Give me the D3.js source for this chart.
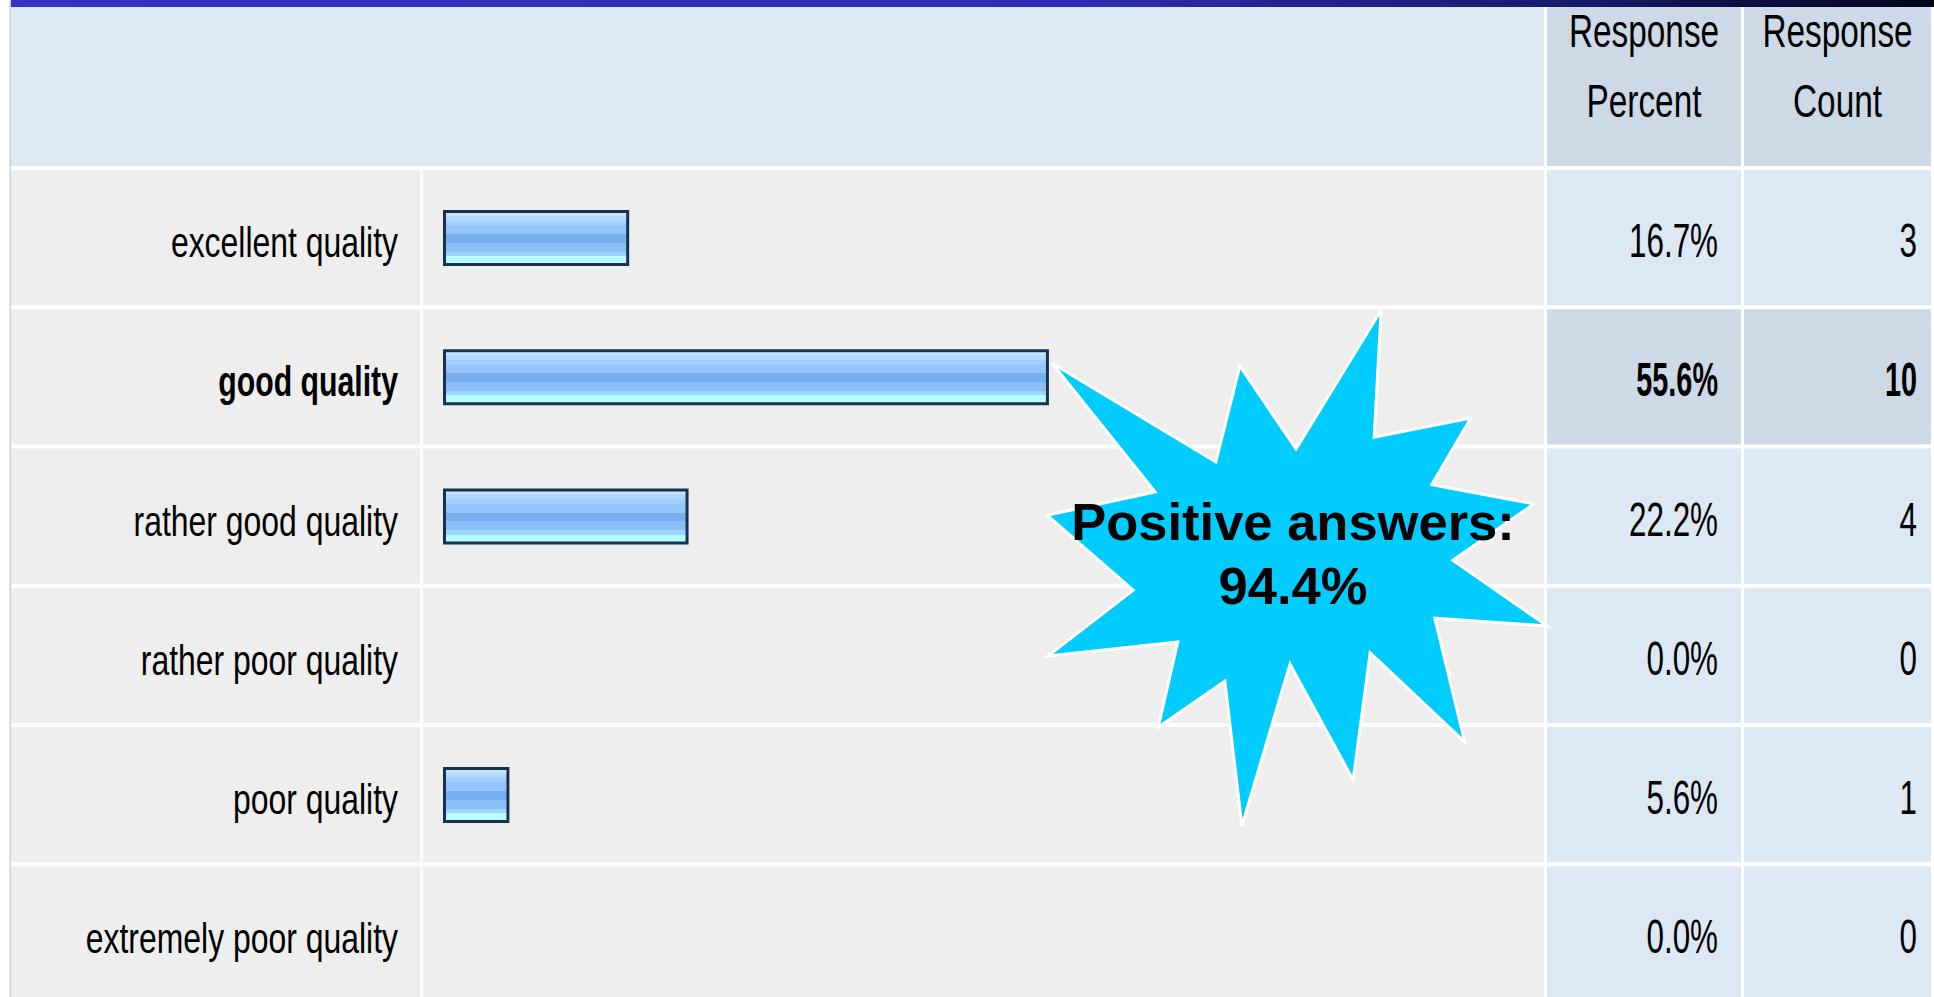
<!DOCTYPE html>
<html>
<head>
<meta charset="utf-8">
<script src="https://cdn.jsdelivr.net/npm/d3@7"></script>
<style>
body { margin: 0; background: #fff; }
svg { display: block; }
</style>
</head>
<body>
<svg id="chart" width="1934" height="997"></svg>
<script>
var categories = ["excellent quality", "good quality", "rather good quality",
	"rather poor quality", "poor quality", "extremely poor quality"];
var percents = [16.7, 55.6, 22.2, 0.0, 5.6, 0.0];
var counts = [3, 10, 4, 0, 1, 0];
var headerPercent = ["Response", "Percent"];
var headerCount = ["Response", "Count"];
var highlighted = "good quality";
var calloutLines = ["Positive answers:", "94.4%"];

// outline of the starburst, in its own unit box
var burstShape = [
	[0.012, 0.103], [0.339, 0.294], [0.387, 0.108], [0.499, 0.269],
	[0.669, 0.000], [0.655, 0.246], [0.848, 0.209], [0.770, 0.338],
	[0.974, 0.375], [0.812, 0.484], [1.000, 0.611], [0.776, 0.596],
	[0.836, 0.836], [0.647, 0.663], [0.613, 0.909], [0.487, 0.685],
	[0.391, 0.998], [0.357, 0.718], [0.224, 0.807], [0.263, 0.642],
	[0.004, 0.669], [0.174, 0.542], [0.002, 0.397], [0.218, 0.352]
];

var rows = categories.map(function(c, i){
	return { label: c, pct: percents[i], count: counts[i] };
});

var svg = d3.select("#chart");
var defs = svg.append("defs");

// layout
var colLabel = [11, 420], colBar = [423, 1544], colPct = [1547, 1741], colCnt = [1744, 1931];
var headerTop = 7, headerBottom = 166;
var rowStep = 139.25;

var y = d3.scaleBand()
	.domain(categories)
	.range([168, 168 + rowStep * categories.length]);
var x = d3.scaleLinear()
	.domain([0, 100])
	.range([446, 446 + 1079]);

// gradients
var topGrad = defs.append("linearGradient").attr("id", "topbar")
	.attr("x1", "0").attr("x2", "1").attr("y1", "0").attr("y2", "0");
[["0", "#3333c4"], ["0.55", "#2d2db6"], ["0.8", "#1a1a70"], ["1", "#04041c"]].forEach(function(s){
	topGrad.append("stop").attr("offset", s[0]).attr("stop-color", s[1]);
});

var barGrad = defs.append("linearGradient").attr("id", "bargrad")
	.attr("x1", "0").attr("x2", "0").attr("y1", "0").attr("y2", "1");
var stripes = [
	[0.000, "#c8e4ff"], [0.083, "#b2d9ff"], [0.172, "#a2cffd"], [0.262, "#94c6fb"],
	[0.428, "#76aef0"], [0.586, "#8abff8"], [0.759, "#9fd2ff"], [0.841, "#b6ffff"]
];
stripes.forEach(function(s, i){
	var end = i < stripes.length - 1 ? stripes[i + 1][0] : 1;
	barGrad.append("stop").attr("offset", s[0]).attr("stop-color", s[1]);
	barGrad.append("stop").attr("offset", end).attr("stop-color", s[1]);
});

// top bar and left rule
svg.append("rect").attr("x", 10).attr("y", 0).attr("width", 1934 - 10).attr("height", headerTop)
	.attr("fill", "url(#topbar)");
svg.append("rect").attr("x", 9.5).attr("y", 0).attr("width", 1.5).attr("height", 997)
	.attr("fill", "#cbcbe8");

// header cells
svg.append("rect").attr("x", colLabel[0]).attr("y", headerTop)
	.attr("width", colBar[1] - colLabel[0]).attr("height", headerBottom - headerTop)
	.attr("fill", "#dde8f5");
[[colPct, headerPercent], [colCnt, headerCount]].forEach(function(h){
	svg.append("rect").attr("x", h[0][0]).attr("y", headerTop)
		.attr("width", h[0][1] - h[0][0]).attr("height", headerBottom - headerTop)
		.attr("fill", "#cdd9e6");
	var cx = (h[0][0] + h[0][1]) / 2;
	h[1].forEach(function(t, j){
		svg.append("text")
			.attr("transform", "translate(" + cx + "," + (47 + j * 70) + ") scale(0.71,1)")
			.attr("text-anchor", "middle")
			.attr("font-family", "Liberation Sans, Arial, sans-serif")
			.attr("font-size", 47)
			.attr("fill", "#000")
			.text(t);
	});
});

// body rows
var rowG = svg.append("g").selectAll("g")
	.data(rows)
	.enter()
		.append("g")
		.attr("transform", function(d){ return "translate(0," + y(d.label) + ")"; });

rowG.append("rect").attr("x", colLabel[0]).attr("y", 2)
	.attr("width", colLabel[1] - colLabel[0]).attr("height", rowStep - 4).attr("fill", "#eeeeee");
rowG.append("rect").attr("x", colBar[0]).attr("y", 2)
	.attr("width", colBar[1] - colBar[0]).attr("height", rowStep - 4).attr("fill", "#eeeeee");
rowG.append("rect").attr("x", colPct[0]).attr("y", 2)
	.attr("width", colPct[1] - colPct[0]).attr("height", rowStep - 4)
	.attr("fill", function(d){ return d.label === highlighted ? "#cdd9e6" : "#dde8f5"; });
rowG.append("rect").attr("x", colCnt[0]).attr("y", 2)
	.attr("width", colCnt[1] - colCnt[0]).attr("height", rowStep - 4)
	.attr("fill", function(d){ return d.label === highlighted ? "#cdd9e6" : "#dde8f5"; });

// bars
rowG.filter(function(d){ return d.pct > 0; })
	.append("rect")
	.attr("x", x(0) - 1.5)
	.attr("y", 43.5)
	.attr("width", function(d){ return x(d.pct) - x(0) + 3; })
	.attr("height", 53)
	.attr("fill", "url(#bargrad)")
	.attr("stroke", "#1a3050")
	.attr("stroke-width", 3);

var txt = function(sel, size, weight){
	return sel.attr("font-family", "Liberation Sans, Arial, sans-serif")
		.attr("font-size", size)
		.attr("font-weight", weight)
		.attr("text-anchor", "end")
		.attr("fill", "#000");
};

txt(rowG.append("text"), 42, function(d){ return d.label === highlighted ? "bold" : "normal"; })
	.attr("transform", function(d){
		return "translate(398,89) scale(" + (d.label === highlighted ? 0.72 : 0.76) + ",1)";
	})
	.text(function(d){ return d.label; });

txt(rowG.append("text"), 48, function(d){ return d.label === highlighted ? "bold" : "normal"; })
	.attr("transform", function(d){
		return "translate(1718,89) scale(" + (d.label === highlighted ? 0.6 : 0.654) + ",1)";
	})
	.text(function(d){ return d.pct.toFixed(1) + "%"; });

txt(rowG.append("text"), 48, function(d){ return d.label === highlighted ? "bold" : "normal"; })
	.attr("transform", function(d){
		return "translate(1917,89) scale(" + (d.label === highlighted ? 0.6 : 0.654) + ",1)";
	})
	.text(function(d){ return d.count; });

// starburst callout
var bx = d3.scaleLinear().domain([0, 1]).range([1046, 1547]);
var by = d3.scaleLinear().domain([0, 1]).range([310, 827]);
svg.append("polygon")
	.attr("points", burstShape.map(function(p){ return [bx(p[0]), by(p[1])].join(","); }).join(" "))
	.attr("fill", "#00ccff")
	.attr("stroke", "#ffffff")
	.attr("stroke-width", 3)
	.attr("stroke-linejoin", "miter");

svg.append("g").selectAll("text")
	.data(calloutLines)
	.enter()
		.append("text")
		.attr("x", 1293)
		.attr("y", function(d, i){ return 540 + i * 64; })
		.attr("text-anchor", "middle")
		.attr("font-family", "Liberation Sans, Arial, sans-serif")
		.attr("font-weight", "bold")
		.attr("font-size", 52.5)
		.attr("fill", "#000")
		.text(function(d){ return d; });
</script>
</body>
</html>
